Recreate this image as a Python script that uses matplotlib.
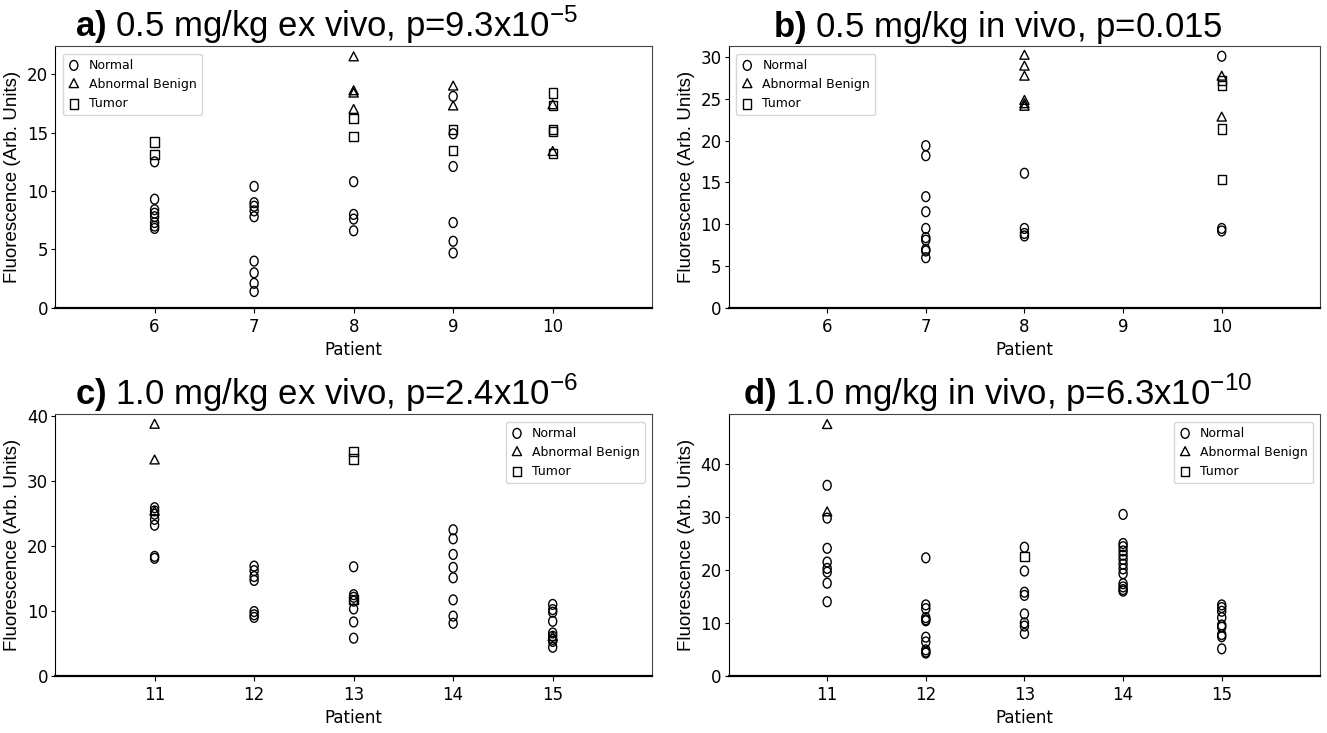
import numpy as np
import matplotlib
matplotlib.use("Agg")
import matplotlib.pyplot as plt
from matplotlib.path import Path
from matplotlib.ticker import MultipleLocator, FormatStrFormatter

plt.rcParams['mathtext.fontset'] = 'custom'
plt.rcParams['mathtext.rm'] = 'Liberation Sans'
plt.rcParams['mathtext.bf'] = 'Liberation Sans:bold'

narrow = ['DejaVu Sans Condensed', 'Liberation Sans Narrow', 'DejaVu Sans']

# ---- data (patient -> values per tissue type) ----
# panel a: 0.5 mg/kg ex vivo
a_normal = {6: [12.5, 9.3, 8.4, 8.1, 7.8, 7.3, 7.0, 6.8],
            7: [10.4, 9.0, 8.7, 8.3, 7.8, 4.0, 3.0, 2.1, 1.4],
            8: [10.8, 8.0, 7.6, 6.6],
            9: [18.1, 14.9, 12.1, 7.3, 5.7, 4.7]}
a_benign = {8: [21.4, 18.5, 18.3, 16.9],
            9: [18.9, 17.2],
            10: [17.3, 13.3]}
a_tumor = {6: [14.2, 13.1],
           8: [16.2, 14.7],
           9: [15.3, 13.5],
           10: [18.4, 17.3, 15.3, 15.1, 13.2]}

# panel b: 0.5 mg/kg in vivo
b_normal = {7: [19.4, 18.2, 13.3, 11.5, 9.5, 8.4, 8.1, 7.0, 6.8, 6.0],
            8: [16.1, 9.5, 8.9, 8.6],
            10: [30.1, 9.5, 9.2]}
b_benign = {8: [30.1, 28.8, 27.6, 24.7, 24.3, 24.0],
            10: [27.6, 22.7]}
b_tumor = {10: [27.2, 26.6, 21.4, 15.4]}

# panel c: 1.0 mg/kg ex vivo
c_normal = {11: [25.9, 25.4, 24.9, 24.1, 23.2, 18.4, 18.1],
            12: [16.9, 16.2, 15.3, 14.7, 9.9, 9.4, 9.0],
            13: [16.8, 12.5, 12.1, 11.5, 10.3, 8.3, 5.8],
            14: [22.5, 21.1, 18.7, 16.7, 15.1, 11.7, 9.2, 8.1],
            15: [11.0, 10.2, 9.8, 8.4, 6.6, 6.1, 5.6, 5.3, 4.4]}
c_benign = {11: [38.6, 33.1, 25.2],
            15: [5.9]}
c_tumor = {13: [34.6, 33.4, 11.8]}

# panel d: 1.0 mg/kg in vivo
d_normal = {11: [36.0, 29.8, 24.1, 21.5, 20.3, 19.6, 17.5, 14.0],
            12: [22.3, 13.4, 12.7, 11.0, 10.6, 10.4, 7.3, 6.4, 4.9, 4.5, 4.3],
            13: [24.3, 19.8, 15.8, 15.2, 11.7, 10.0, 9.4, 8.0],
            14: [30.5, 25.0, 24.4, 23.6, 22.8, 22.0, 21.1, 20.2, 19.3,
                 17.4, 16.8, 16.3, 16.0],
            15: [13.4, 12.9, 12.2, 11.0, 9.6, 9.2, 7.8, 7.4, 5.1]}
d_benign = {11: [47.3, 30.8]}
d_tumor = {13: [22.5]}

titles = [r"$\mathbf{a)}$ 0.5 mg/kg ex vivo, p=9.3x10$^{-5}$",
          r"$\mathbf{b)}$ 0.5 mg/kg in vivo, p=0.015",
          r"$\mathbf{c)}$ 1.0 mg/kg ex vivo, p=2.4x10$^{-6}$",
          r"$\mathbf{d)}$ 1.0 mg/kg in vivo, p=6.3x10$^{-10}$"]
patients_top = [6, 7, 8, 9, 10]
patients_bottom = [11, 12, 13, 14, 15]
ytick_steps = [5, 5, 10, 10]

panels = [(a_normal, a_benign, a_tumor, patients_top, 'upper left'),
          (b_normal, b_benign, b_tumor, patients_top, 'upper left'),
          (c_normal, c_benign, c_tumor, patients_bottom, 'upper right'),
          (d_normal, d_benign, d_tumor, patients_bottom, 'upper right')]

positions = [[0.0415, 0.580, 0.450, 0.357],
             [0.549, 0.580, 0.446, 0.357],
             [0.0415, 0.078, 0.450, 0.357],
             [0.549, 0.078, 0.446, 0.357]]


def squeezed(path, fx=0.82):
    # the inner plots of the reference look squeezed sideways
    v = path.vertices.copy()
    v[:, 0] *= fx
    return Path(v, path.codes)


m_circle = squeezed(Path.unit_circle())
m_tri = squeezed(Path.unit_regular_polygon(3), 0.9)
m_square = squeezed(Path([(-1, -1), (1, -1), (1, 1), (-1, 1), (-1, -1)],
                         [1, 2, 2, 2, 79]), 0.9)

fig = plt.figure(figsize=(13.27, 7.33), dpi=100)

for pos, title, step, (normal, benign, tumor, pats, loc) in zip(
        positions, titles, ytick_steps, panels):
    ax = fig.add_axes(pos)
    for group, marker, label, size in [(normal, m_circle, 'Normal', 50),
                                       (benign, m_tri, 'Abnormal Benign', 72),
                                       (tumor, m_square, 'Tumor', 44)]:
        xs = [p for p in group for _ in group[p]]
        ys = [v for p in group for v in group[p]]
        ax.scatter(xs, ys, marker=marker, s=size, facecolors='none',
                   edgecolors='black', linewidths=1.0, label=label)
    ax.set_xlim(pats[0] - 1, pats[-1] + 1)
    ax.set_ylim(bottom=0)
    ax.set_xticks(pats)
    ax.yaxis.set_major_locator(MultipleLocator(step))
    ax.yaxis.set_major_formatter(FormatStrFormatter('%d'))
    ax.tick_params(axis='y', length=3, pad=2)
    for lab in ax.get_xticklabels() + ax.get_yticklabels():
        lab.set_family(narrow)
        lab.set_fontsize(12)
    for side in ['top', 'right']:
        ax.spines[side].set_color('#444444')
    ax.spines['bottom'].set_linewidth(1.6)
    ax.set_xlabel('Patient', fontsize=12, family=narrow)
    ax.set_ylabel('Fluorescence (Arb. Units)', fontsize=13.5,
                  family='Liberation Sans', labelpad=4)
    t = ax.set_title(title, fontsize=25, family='Liberation Sans', pad=5)
    t.set_x(0.455)
    ax.legend(loc=loc, prop={'family': narrow, 'size': 9},
              handlelength=1.0, handletextpad=0.7, borderaxespad=0.6)

fig.savefig('out.png', dpi=100)
